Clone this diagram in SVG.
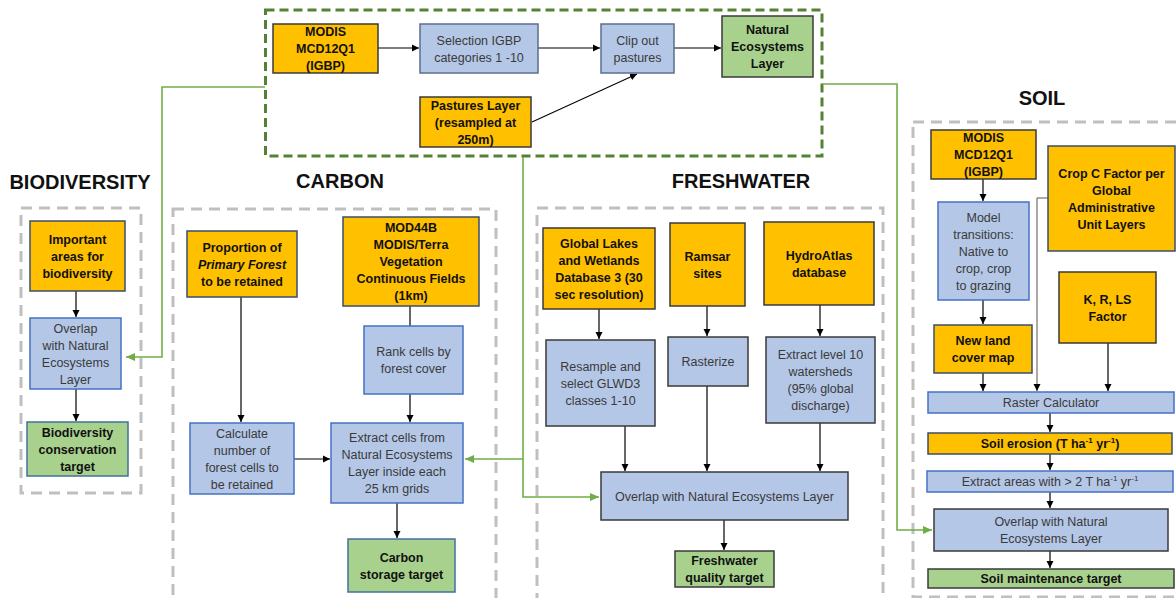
<svg xmlns="http://www.w3.org/2000/svg" width="1176" height="598" viewBox="0 0 1176 598">
<defs>
<marker id="ab" markerUnits="userSpaceOnUse" markerWidth="8" markerHeight="8" refX="7" refY="4" orient="auto"><path d="M0,0.5 L7,4 L0,7.5 Z" fill="#000"/></marker>
<marker id="ag" markerUnits="userSpaceOnUse" markerWidth="10" markerHeight="10" refX="9" refY="5" orient="auto"><path d="M0,1 L9,5 L0,9 Z" fill="#70AD47"/></marker>
<style>
.o{fill:#FFC000;stroke:#3B4E6B;stroke-width:1.5}
.b{fill:#B4C7E7;stroke:#4472C4;stroke-width:1.5}
.g{fill:#A9D18E;stroke:#41719C;stroke-width:1.5}
.dk{stroke:#3A3A3A}
.t{font-family:"Liberation Sans",Arial,sans-serif;font-size:12.5px;text-anchor:middle;fill:#3A3A3A}
.tb{font-family:"Liberation Sans",Arial,sans-serif;font-size:12.5px;font-weight:bold;text-anchor:middle;fill:#111}
.h{font-family:"Liberation Sans",Arial,sans-serif;font-size:20px;font-weight:bold;text-anchor:middle;fill:#111}
.gd{fill:none;stroke:#BFBFBF;stroke-width:3;stroke-dasharray:11 7}
.c{fill:none;stroke:#000;stroke-width:1.2;marker-end:url(#ab)}
.cn{fill:none;stroke:#000;stroke-width:1.2}
.cg{fill:none;stroke:#70AD47;stroke-width:1.6}
</style>
</defs>
<rect width="1176" height="598" fill="#fff"/>

<g id="frames">
<rect x="265.5" y="10" width="556.5" height="146" fill="none" stroke="#548235" stroke-width="3" stroke-dasharray="9 5"/>
<rect class="gd" x="21" y="208" width="120" height="285"/>
<rect class="gd" x="173" y="209" width="323" height="392"/>
<rect class="gd" x="537" y="208" width="346" height="392"/>
<rect class="gd" x="913" y="122" width="280" height="475"/>
</g>

<g id="titles">
<text class="h" x="80" y="189">BIODIVERSITY</text>
<text class="h" x="340" y="188">CARBON</text>
<text class="h" x="741" y="188">FRESHWATER</text>
<text class="h" x="1042" y="105">SOIL</text>
</g>

<g id="connectors">
<path class="cg" d="M265,87 H162 V357 H126" marker-end="url(#ag)"/>
<path class="cg" d="M523,157 V497 H599" marker-end="url(#ag)"/>
<path class="cg" d="M523,459 H465" marker-end="url(#ag)"/>
<path class="cg" d="M822,84 H897 V530 H932" marker-end="url(#ag)"/>

<path class="c" d="M378,48 H419"/>
<path class="c" d="M538,48 H600"/>
<path class="c" d="M674,48 H721"/>
<path class="c" d="M532,122 L637,74"/>

<path class="c" d="M76,291 V317"/>
<path class="c" d="M76,389 V421"/>

<path class="c" d="M241,297 V422"/>
<path class="cn" d="M410,306 V326"/>
<path class="c" d="M410,394 V422"/>
<path class="c" d="M294,459 H330"/>
<path class="c" d="M397,503 V538"/>

<path class="c" d="M599,309 V339"/>
<path class="c" d="M707,306 V336"/>
<path class="c" d="M820,305 V336"/>
<path class="c" d="M625,426 V471"/>
<path class="c" d="M707,386 V471"/>
<path class="c" d="M820,423 V471"/>
<path class="c" d="M724,520 V550"/>

<path class="c" d="M983,179 V201"/>
<path class="c" d="M983,300 V324"/>
<path class="c" d="M983,373 V391"/>
<path class="c" d="M1048,198 H1037 V391" style="stroke:#555;stroke-width:1"/>
<path class="c" d="M1108,343 V391"/>
<path class="c" d="M1050,413 V432"/>
<path class="c" d="M1050,454 V470"/>
<path class="c" d="M1050,492 V508"/>
<path class="c" d="M1050,551 V568"/>
</g>

<g id="modis-top"><rect class="o dk" x="273" y="24" width="105" height="49"/>
<text class="tb" x="325.5" y="36">MODIS</text><text class="tb" x="325.5" y="53">MCD12Q1</text><text class="tb" x="325.5" y="70">(IGBP)</text></g>
<g id="selection"><rect class="b" x="420" y="24" width="118" height="49" style="stroke:#5B6F8F"/>
<text class="t" x="479" y="44.5">Selection IGBP</text><text class="t" x="479" y="61.5">categories 1 -10</text></g>
<g id="clip"><rect class="b" x="601" y="24" width="73" height="49" style="stroke:#5B6F8F"/>
<text class="t" x="637.5" y="44.5">Clip out</text><text class="t" x="637.5" y="61.5">pastures</text></g>
<g id="natural"><rect class="g dk" x="722" y="16" width="91" height="61"/>
<text class="tb" x="767.5" y="34">Natural</text><text class="tb" x="767.5" y="51">Ecosystems</text><text class="tb" x="767.5" y="68">Layer</text></g>
<g id="pastures"><rect class="o dk" x="420" y="97" width="111" height="50"/>
<text class="tb" x="475.5" y="109.5">Pastures Layer</text><text class="tb" x="475.5" y="126.5">(resampled at</text><text class="tb" x="475.5" y="143.5">250m)</text></g>

<g id="bio-important"><rect class="o" x="30" y="221" width="95" height="70"/>
<text class="tb" x="77.5" y="243.5">Important</text><text class="tb" x="77.5" y="260.5">areas for</text><text class="tb" x="77.5" y="277.5">biodiversity</text></g>
<g id="bio-overlap"><rect class="b" x="30" y="318" width="91" height="71"/>
<text class="t" x="75.5" y="332.5">Overlap</text><text class="t" x="75.5" y="349.5">with Natural</text><text class="t" x="75.5" y="366.5">Ecosystems</text><text class="t" x="75.5" y="383.5">Layer</text></g>
<g id="bio-target"><rect class="g" x="27" y="422" width="101" height="54"/>
<text class="tb" x="77.5" y="436.5">Biodiversity</text><text class="tb" x="77.5" y="453.5">conservation</text><text class="tb" x="77.5" y="470.5">target</text></g>

<g id="carbon-proportion"><rect class="o" x="187" y="231" width="110" height="66"/>
<text class="tb" x="242" y="251.5">Proportion of</text><text class="tb" x="242" y="268.5" font-style="italic">Primary Forest</text><text class="tb" x="242" y="285.5">to be retained</text></g>
<g id="carbon-mod44b"><rect class="o" x="343" y="217" width="136" height="89"/>
<text class="tb" x="411" y="232">MOD44B</text><text class="tb" x="411" y="249">MODIS/Terra</text><text class="tb" x="411" y="266">Vegetation</text><text class="tb" x="411" y="283">Continuous Fields</text><text class="tb" x="411" y="300">(1km)</text></g>
<g id="carbon-rank"><rect class="b" x="364" y="326" width="99" height="68"/>
<text class="t" x="413.5" y="356">Rank cells by</text><text class="t" x="413.5" y="373">forest cover</text></g>
<g id="carbon-calc"><rect class="b" x="190" y="423" width="104" height="71"/>
<text class="t" x="242" y="437.5">Calculate</text><text class="t" x="242" y="454.5">number of</text><text class="t" x="242" y="471.5">forest cells to</text><text class="t" x="242" y="488.5">be retained</text></g>
<g id="carbon-extract"><rect class="b" x="331" y="423" width="132" height="80"/>
<text class="t" x="397" y="442">Extract cells from</text><text class="t" x="397" y="459">Natural Ecosystems</text><text class="t" x="397" y="476">Layer inside each</text><text class="t" x="397" y="493">25 km grids</text></g>
<g id="carbon-target"><rect class="g" x="348" y="539" width="107" height="53"/>
<text class="tb" x="401.5" y="561.5">Carbon</text><text class="tb" x="401.5" y="578.5">storage target</text></g>

<g id="fw-glwd"><rect class="o dk" x="543" y="228" width="112" height="81"/>
<text class="tb" x="599" y="247.5">Global Lakes</text><text class="tb" x="599" y="264.5">and Wetlands</text><text class="tb" x="599" y="281.5">Database 3 (30</text><text class="tb" x="599" y="298.5">sec resolution)</text></g>
<g id="fw-ramsar"><rect class="o dk" x="670" y="223" width="75" height="83"/>
<text class="tb" x="707.5" y="260.5">Ramsar</text><text class="tb" x="707.5" y="277.5">sites</text></g>
<g id="fw-hydro"><rect class="o dk" x="764" y="222" width="110" height="83"/>
<text class="tb" x="819" y="259.5">HydroAtlas</text><text class="tb" x="819" y="276.5">database</text></g>
<g id="fw-resample"><rect class="b dk" x="546" y="340" width="109" height="86"/>
<text class="t" x="600.5" y="370.5">Resample and</text><text class="t" x="600.5" y="387.5">select GLWD3</text><text class="t" x="600.5" y="404.5">classes 1-10</text></g>
<g id="fw-rasterize"><rect class="b dk" x="668" y="337" width="80" height="49"/>
<text class="t" x="708" y="365.5">Rasterize</text></g>
<g id="fw-extract"><rect class="b dk" x="766" y="337" width="109" height="86"/>
<text class="t" x="820.5" y="359">Extract level 10</text><text class="t" x="820.5" y="376">watersheds</text><text class="t" x="820.5" y="393">(95% global</text><text class="t" x="820.5" y="410">discharge)</text></g>
<g id="fw-overlap"><rect class="b dk" x="601" y="472" width="247" height="48"/>
<text class="t" x="724.5" y="500.5">Overlap with Natural Ecosystems Layer</text></g>
<g id="fw-target"><rect class="g dk" x="675" y="551" width="99" height="36"/>
<text class="tb" x="724.5" y="565">Freshwater</text><text class="tb" x="724.5" y="582">quality target</text></g>

<g id="soil-modis"><rect class="o dk" x="931" y="130" width="105" height="49"/>
<text class="tb" x="983.5" y="142">MODIS</text><text class="tb" x="983.5" y="159">MCD12Q1</text><text class="tb" x="983.5" y="176">(IGBP)</text></g>
<g id="soil-cropc"><rect class="o" x="1048" y="146" width="127" height="105"/>
<text class="tb" x="1111.5" y="177.5">Crop C Factor per</text><text class="tb" x="1111.5" y="194.5">Global</text><text class="tb" x="1111.5" y="211.5">Administrative</text><text class="tb" x="1111.5" y="228.5">Unit Layers</text></g>
<g id="soil-model"><rect class="b" x="938" y="202" width="91" height="98"/>
<text class="t" x="983.5" y="221.5">Model</text><text class="t" x="983.5" y="238.5">transitions:</text><text class="t" x="983.5" y="255.5">Native to</text><text class="t" x="983.5" y="272.5">crop, crop</text><text class="t" x="983.5" y="289.5">to grazing</text></g>
<g id="soil-krls"><rect class="o dk" x="1059" y="272" width="97" height="71"/>
<text class="tb" x="1107.5" y="303.5">K, R, LS</text><text class="tb" x="1107.5" y="320.5">Factor</text></g>
<g id="soil-newland"><rect class="o" x="934" y="325" width="98" height="48"/>
<text class="tb" x="983" y="345">New land</text><text class="tb" x="983" y="362">cover map</text></g>
<g id="soil-raster"><rect class="b" x="928" y="392" width="246" height="21"/>
<text class="t" x="1051" y="407">Raster Calculator</text></g>
<g id="soil-erosion"><rect class="o" x="928" y="433" width="244" height="21"/>
<text class="tb" x="1050" y="448">Soil erosion (T ha<tspan font-size="8" dy="-5">-1</tspan><tspan dy="5"> yr</tspan><tspan font-size="8" dy="-5">-1</tspan><tspan dy="5">)</tspan></text></g>
<g id="soil-extract"><rect class="b" x="927" y="471" width="246" height="21"/>
<text class="t" x="1050" y="486">Extract areas with &gt; 2 T ha<tspan font-size="8" dy="-5">-1</tspan><tspan dy="5"> yr</tspan><tspan font-size="8" dy="-5">-1</tspan></text></g>
<g id="soil-overlap"><rect class="b dk" x="934" y="509" width="234" height="42"/>
<text class="t" x="1051" y="526">Overlap with Natural</text><text class="t" x="1051" y="543">Ecosystems Layer</text></g>
<g id="soil-target"><rect class="g dk" x="928" y="569" width="246" height="19"/>
<text class="tb" x="1051" y="583">Soil maintenance target</text></g>
</svg>
